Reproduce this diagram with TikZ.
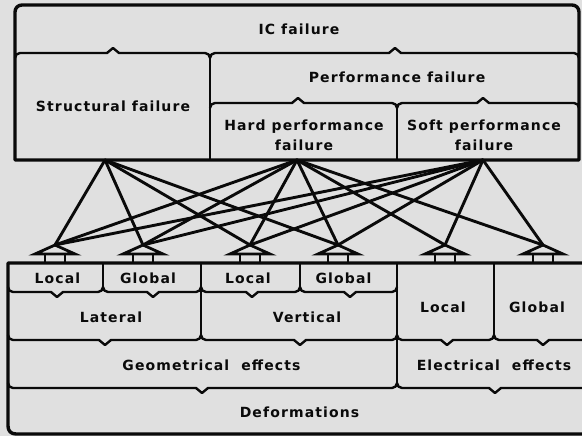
\documentclass[tikz,border=0pt]{standalone}
\usepackage{fontspec}
\newfontfamily\labelfont[LetterSpace=8]{DejaVu Sans}
\definecolor{paper}{RGB}{224,224,224}
\definecolor{ink}{RGB}{10,10,10}

\tikzset{
  frame/.style={draw=ink, line width=3.4pt, line join=round},
  boxline/.style={draw=ink, line width=2.4pt, line join=round},
  link/.style={draw=ink, line width=2.9pt, line cap=round},
  marker/.style={draw=ink, line width=2.8pt, line join=miter},
  lbl/.style={font=\labelfont\bfseries\fontsize{14}{20}\selectfont, text=ink, inner sep=0pt, align=center}
}

% top edge of a box in the upper block: rounded ends, caret pointing up
% #1 left x, #2 right x, #3 caret x, #4 y
\newcommand\upperedge[4]{%
  \draw[boxline] (#1,#4+5) .. controls (#1,#4+2.2) and (#1+2.2,#4) .. (#1+5,#4)
    -- (#3-6,#4) -- (#3,#4-5) -- (#3+6,#4) -- (#2-5,#4)
    .. controls (#2-2.2,#4) and (#2,#4+2.2) .. (#2,#4+5);}
% bottom edge of a box in the lower block: rounded ends, caret pointing down
\newcommand\loweredge[4]{%
  \draw[boxline] (#1,#4-5) .. controls (#1,#4-2.2) and (#1+2.2,#4) .. (#1+5,#4)
    -- (#3-6,#4) -- (#3,#4+5) -- (#3+6,#4) -- (#2-5,#4)
    .. controls (#2-2.2,#4) and (#2,#4-2.2) .. (#2,#4-5);}
% arrow marker standing on the lower block: #1 name of the tip, #2 x
\newcommand\tipmarker[2]{%
  \coordinate (#1) at (#2,245);
  \draw[marker] (#2-20,254) -- (#1) -- (#2+20,254) -- cycle;
  \draw[marker] (#2-10,254) -- (#2-10,263) (#2+10,254) -- (#2+10,263);}

\begin{document}
\begin{tikzpicture}[x=1pt,y=-1pt]
\fill[paper] (0,0) rectangle (582,436);
\useasboundingbox (0,0) rectangle (582,436);
\clip (0,0) rectangle (582,436);

% ---------- failure hierarchy ----------
\draw[frame] (15,160) -- (15,12) .. controls (15,8) and (18,5) .. (22,5)
  -- (572,5) .. controls (576,5) and (579,8) .. (579,12) -- (579,160) -- cycle;
\upperedge{15}{210}{113}{53}
\upperedge{210}{579}{395}{53}
\upperedge{210}{397}{298}{103}
\upperedge{397}{579}{483}{103}
\draw[boxline] (210,58) -- (210,160);
\draw[boxline] (397,108) -- (397,160);

\node[lbl, anchor=base] (ic) at (299,35) {IC failure};
\node[lbl, anchor=base] (sf) at (113,112) {Structural failure};
\node[lbl, anchor=base] (pf) at (397,83) {Performance failure};
\node[lbl] (hpf) at (304,135) {Hard performance\\failure};
\node[lbl] (spf) at (484,135) {Soft performance\\failure};

\coordinate (s) at (105,160);
\coordinate (h) at (297,160);
\coordinate (p) at (483,160);

% ---------- deformation hierarchy ----------
\draw[frame] (592,263) -- (8,263) -- (8,426) .. controls (8,431) and (11,434) .. (16,434) -- (592,434);
\loweredge{8}{103}{57}{292}
\loweredge{103}{201}{153}{292}
\loweredge{201}{300}{252}{292}
\loweredge{300}{397}{350}{292}
\draw[boxline] (103,263) -- (103,287);
\draw[boxline] (300,263) -- (300,287);
\loweredge{8}{201}{105}{340}
\loweredge{201}{397}{300}{340}
\loweredge{397}{494}{447}{340}
\loweredge{494}{592}{543}{340}
\draw[boxline] (201,263) -- (201,335);
\draw[boxline] (494,263) -- (494,335);
\loweredge{8}{397}{202}{388}
\loweredge{397}{592}{495}{388}
\draw[boxline] (397,263) -- (397,383);

\node[lbl, anchor=base] (gl1) at (57.5,283) {Local};
\node[lbl, anchor=base] (gg1) at (148,283) {Global};
\node[lbl, anchor=base] (gl2) at (248,283) {Local};
\node[lbl, anchor=base] (gg2) at (343.5,283) {Global};
\node[lbl, anchor=base] (lat) at (111,322) {Lateral};
\node[lbl, anchor=base] (ver) at (307,322) {Vertical};
\node[lbl, anchor=base] (el) at (443,312) {Local};
\node[lbl, anchor=base] (eg) at (537,312) {Global};
\node[lbl, anchor=base] (geo) at (211.5,370) {Geometrical~~effects};
\node[lbl, anchor=base] (ele) at (494,370) {Electrical~~effects};
\node[lbl, anchor=base] (def) at (299.5,417) {Deformations};

% ---------- markers and links ----------
\tipmarker{a1}{55}
\tipmarker{a2}{143}
\tipmarker{a3}{250}
\tipmarker{a4}{338}
\tipmarker{a5}{445}
\tipmarker{a6}{543}

\foreach \t in {a1,a2,a3,a4} \draw[link] (s) -- (\t);
\foreach \t in {a1,a2,a3,a4,a5,a6} \draw[link] (h) -- (\t);
\foreach \t in {a1,a2,a3,a4,a5,a6} \draw[link] (p) -- (\t);
\end{tikzpicture}
\end{document}
